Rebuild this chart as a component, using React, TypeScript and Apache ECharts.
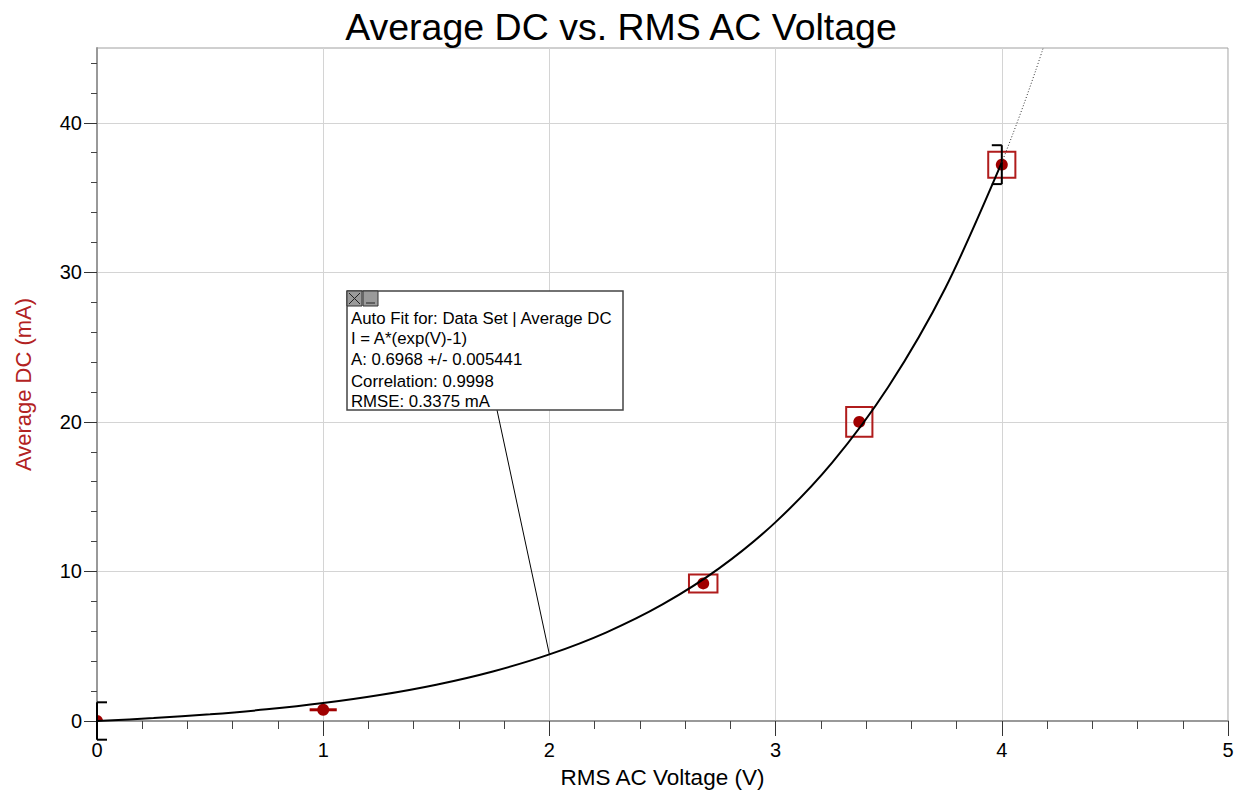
import React, { useEffect, useRef } from "react";
import * as echarts from "echarts";

// ---- data ----
const voltage = [0, 1.0, 2.68, 3.37, 4.0];
const current = [0.0, 0.75, 9.2, 20.0, 37.2];

// uncertainty boxes: [V, I, halfWidthV, halfHeightI]
const boxV = [2.68, 3.37, 4.0];
const boxI = [9.2, 20.0, 37.2];
const boxHalfV = [0.063, 0.058, 0.06];
const boxHalfI = [0.6, 1.0, 0.87];

// vertical bracket error bars: [V, I, halfI, capDirection]
const vErrV = [0, 4.0];
const vErrI = [0, 37.2];
const vErrHalf = [1.25, 1.3];
const vErrCap = [1, -1];

// horizontal error bar
const hErrV = [1.0];
const hErrI = [0.75];
const hErrHalf = [0.06];

// fit curve I = A*(exp(V)-1), A = 0.6968 (tabulated values)
const fitV = [0, 0.25, 0.5, 0.75, 1.0, 1.25, 1.5, 1.75, 2.0, 2.25, 2.5, 2.75, 3.0, 3.25, 3.5, 3.75, 4.0];
const fitI = [0, 0.198, 0.452, 0.778, 1.197, 1.735, 2.426, 3.313, 4.452, 5.914, 7.792, 10.203, 13.299, 17.274, 22.378, 28.932, 37.347];
const extV = [4.0, 4.05, 4.1, 4.15, 4.183];
const extI = [37.347, 39.298, 41.348, 43.504, 45.0];

const xTicks = [0, 1, 2, 3, 4, 5];
const yTicks = [0, 10, 20, 30, 40];
const yMinorTicks = [2, 4, 6, 8, 12, 14, 16, 18, 22, 24, 26, 28, 32, 34, 36, 38, 42, 44];

const annotationLines = [
  "Auto Fit for: Data Set | Average DC",
  "I = A*(exp(V)-1)",
  "A: 0.6968 +/- 0.005441",
  "Correlation: 0.9998",
  "RMSE: 0.3375 mA",
];
const leaderTarget = [2.0, 4.452];

const FONT = 'Arial, "Liberation Sans", sans-serif';
const RED = "#a00000";
const BOX_RED = "#b01c1c";

export default function App() {
  const ref = useRef<HTMLDivElement>(null);
  useEffect(() => {
    document.body.style.margin = "0";
    const chart = echarts.init(ref.current!, null, { renderer: "svg" });
    const option: any = {
      animation: false,
      backgroundColor: "#fff",
      title: {
        text: "Average DC vs. RMS AC Voltage",
        left: "center",
        top: 3,
        textStyle: { fontFamily: FONT, fontSize: 37.5, fontWeight: "normal", color: "#000" },
      },
      grid: {
        left: 97,
        right: 14,
        top: 48,
        bottom: 70,
        show: true,
        borderColor: "#a0a0a0",
        borderWidth: 1,
        backgroundColor: "transparent",
      },
      xAxis: [
        {
          type: "value",
          min: 0,
          max: 5,
          interval: 1,
          name: "RMS AC Voltage (V)",
          nameLocation: "middle",
          nameGap: 45,
          nameTextStyle: { fontFamily: FONT, fontSize: 22.5, color: "#000" },
          axisLine: { show: true, onZero: false, lineStyle: { color: "#999", width: 2 } },
          axisTick: { show: true, length: 15, customValues: xTicks, lineStyle: { color: "#333", width: 1 } },
          minorTick: { show: true, splitNumber: 5, length: 8, lineStyle: { color: "#444", width: 1 } },
          axisLabel: { customValues: xTicks, margin: 19, fontFamily: FONT, fontSize: 20, color: "#000" },
          splitLine: { show: true, lineStyle: { color: "#d4d4d4", width: 1 } },
        },
      ],
      yAxis: [
        {
          type: "value",
          min: 0,
          max: 45,
          interval: 10,
          name: "Average DC (mA)",
          nameLocation: "middle",
          nameGap: 63,
          nameTextStyle: { fontFamily: FONT, fontSize: 22, color: "#b22222" },
          axisLine: { show: true, onZero: false, lineStyle: { color: "#999", width: 2 } },
          axisTick: { show: true, length: 13, customValues: yTicks, lineStyle: { color: "#333", width: 1 } },
          axisLabel: { customValues: yTicks, margin: 15, fontFamily: FONT, fontSize: 20, color: "#000" },
          splitLine: { show: true, lineStyle: { color: "#d4d4d4", width: 1 } },
        },
        {
          type: "value",
          min: 0,
          max: 45,
          position: "left",
          offset: 0,
          axisLine: { show: false },
          axisTick: { show: true, length: 6, customValues: yMinorTicks, lineStyle: { color: "#444", width: 1 } },
          axisLabel: { show: false },
          splitLine: { show: false },
        },
      ],
      series: [
        {
          type: "custom",
          name: "boxes",
          z: 2,
          clip: false,
          renderItem: (params: any, api: any) => {
            const x = api.value(0), y = api.value(1), hw = api.value(2), hh = api.value(3);
            const p1 = api.coord([x - hw, y + hh]);
            const p2 = api.coord([x + hw, y - hh]);
            return {
              type: "rect",
              shape: { x: p1[0], y: p1[1], width: p2[0] - p1[0], height: p2[1] - p1[1] },
              style: { fill: "none", stroke: BOX_RED, lineWidth: 2 },
            };
          },
          data: boxV.map((v, i) => [v, boxI[i], boxHalfV[i], boxHalfI[i]]),
        },
        {
          type: "custom",
          name: "hErr",
          z: 2,
          clip: false,
          renderItem: (params: any, api: any) => {
            const x = api.value(0), y = api.value(1), hw = api.value(2);
            const a = api.coord([x - hw, y]);
            const b = api.coord([x + hw, y]);
            return {
              type: "line",
              shape: { x1: a[0], y1: a[1], x2: b[0], y2: b[1] },
              style: { stroke: RED, lineWidth: 3 },
            };
          },
          data: hErrV.map((v, i) => [v, hErrI[i], hErrHalf[i]]),
        },
        {
          type: "custom",
          name: "Average DC",
          z: 3,
          clip: true,
          renderItem: (params: any, api: any) => {
            const p = api.coord([api.value(0), api.value(1)]);
            return {
              type: "circle",
              shape: { cx: p[0], cy: p[1], r: 6 },
              style: { fill: RED },
            };
          },
          data: voltage.map((v, i) => [v, current[i]]),
        },
        {
          type: "custom",
          name: "vErr",
          z: 4,
          clip: false,
          renderItem: (params: any, api: any) => {
            const x = api.value(0), y = api.value(1), hh = api.value(2), dir = api.value(3);
            const top = api.coord([x, y + hh]);
            const bot = api.coord([x, y - hh]);
            const cap = 10 * dir;
            return {
              type: "group",
              children: [
                { type: "line", shape: { x1: top[0], y1: top[1], x2: bot[0], y2: bot[1] }, style: { stroke: "#000", lineWidth: 2 } },
                { type: "line", shape: { x1: top[0], y1: top[1], x2: top[0] + cap, y2: top[1] }, style: { stroke: "#000", lineWidth: 2 } },
                { type: "line", shape: { x1: bot[0], y1: bot[1], x2: bot[0] + cap, y2: bot[1] }, style: { stroke: "#000", lineWidth: 2 } },
              ],
            };
          },
          data: vErrV.map((v, i) => [v, vErrI[i], vErrHalf[i], vErrCap[i]]),
        },
        {
          type: "line",
          name: "fit",
          z: 5,
          smooth: 0.3,
          showSymbol: false,
          symbol: "none",
          lineStyle: { color: "#000", width: 2 },
          data: fitV.map((v, i) => [v, fitI[i]]),
        },
        {
          type: "line",
          name: "fitExt",
          z: 5,
          smooth: 0.3,
          showSymbol: false,
          symbol: "none",
          lineStyle: { color: "#333", width: 1, type: [1, 2] },
          data: extV.map((v, i) => [v, extI[i]]),
        },
      ],
    };
    chart.setOption(option);

    const tgt = chart.convertToPixel({ gridIndex: 0 }, leaderTarget) as number[];
    const bx = 347, by = 291, bw = 276, bh = 119;
    const graphic: any[] = [
      {
        type: "line",
        z: 10,
        shape: { x1: 497, y1: by + bh, x2: tgt[0], y2: tgt[1] },
        style: { stroke: "#000", lineWidth: 1 },
      },
      {
        type: "rect",
        z: 11,
        shape: { x: bx, y: by, width: bw, height: bh },
        style: { fill: "#fff", stroke: "#444", lineWidth: 1.5 },
      },
      {
        type: "rect",
        z: 12,
        shape: { x: bx, y: by, width: 15, height: 15 },
        style: { fill: "#9a9a9a", stroke: "#333", lineWidth: 1 },
      },
      { type: "line", z: 13, shape: { x1: bx + 2, y1: by + 2, x2: bx + 13, y2: by + 13 }, style: { stroke: "#222", lineWidth: 1 } },
      { type: "line", z: 13, shape: { x1: bx + 13, y1: by + 2, x2: bx + 2, y2: by + 13 }, style: { stroke: "#222", lineWidth: 1 } },
      {
        type: "rect",
        z: 12,
        shape: { x: bx + 16, y: by, width: 15, height: 15 },
        style: { fill: "#9a9a9a", stroke: "#333", lineWidth: 1 },
      },
      { type: "line", z: 13, shape: { x1: bx + 19, y1: by + 12, x2: bx + 28, y2: by + 12 }, style: { stroke: "#222", lineWidth: 1 } },
    ];
    const lineCenters = [318, 338, 359, 381, 401];
    annotationLines.forEach((t, i) => {
      graphic.push({
        type: "text",
        z: 14,
        x: bx + 4,
        y: lineCenters[i],
        style: {
          text: t,
          fill: "#000",
          font: `16.8px ${FONT}`,
          textVerticalAlign: "middle",
          verticalAlign: "middle",
        },
      });
    });
    chart.setOption({ graphic });

    return () => chart.dispose();
  }, []);
  return <div ref={ref} style={{ width: 1242, height: 794 }} />;
}
